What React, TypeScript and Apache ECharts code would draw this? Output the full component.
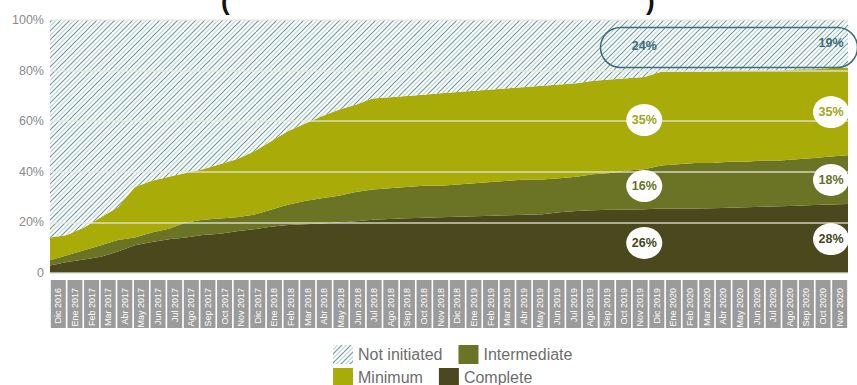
import React, { useEffect, useRef } from 'react';
import * as echarts from 'echarts';

const categories = [
  'Dic 2016',
  'Ene 2017', 'Feb 2017', 'Mar 2017', 'Abr 2017', 'May 2017', 'Jun 2017', 'Jul 2017', 'Ago 2017', 'Sep 2017', 'Oct 2017', 'Nov 2017', 'Dic 2017',
  'Ene 2018', 'Feb 2018', 'Mar 2018', 'Abr 2018', 'May 2018', 'Jun 2018', 'Jul 2018', 'Ago 2018', 'Sep 2018', 'Oct 2018', 'Nov 2018', 'Dic 2018',
  'Ene 2019', 'Feb 2019', 'Mar 2019', 'Abr 2019', 'May 2019', 'Jun 2019', 'Jul 2019', 'Ago 2019', 'Sep 2019', 'Oct 2019', 'Nov 2019', 'Dic 2019',
  'Ene 2020', 'Feb 2020', 'Mar 2020', 'Abr 2020', 'May 2020', 'Jun 2020', 'Jul 2020', 'Ago 2020', 'Sep 2020', 'Oct 2020', 'Nov 2020',
];

const complete = [3, 4.3, 5.3, 6.4, 8.5, 11, 12.3, 13.3, 14, 15, 15.5, 16.5, 17.3, 18.3, 19, 19.3, 19.6, 20, 20.5, 21, 21.3, 21.6, 21.8, 22, 22.2, 22.4, 22.6, 22.8, 23, 23.2, 24, 24.5, 24.8, 25, 25, 25.2, 25.5, 25.5, 25.5, 25.6, 25.8, 26, 26.2, 26.4, 26.6, 26.9, 27.1, 27.3];
const intermediate = [2, 2.7, 3.7, 4.6, 4.5, 3, 3.7, 4.2, 6, 6, 6, 5.5, 5.7, 6.7, 8, 9.2, 9.9, 10.5, 11.5, 12, 12.2, 12.4, 12.7, 12.5, 12.8, 13.1, 13.4, 13.7, 14, 13.8, 13.5, 13.5, 14.2, 14.5, 15.5, 15.8, 17, 17.5, 18, 17.9, 18.2, 18, 18.3, 18.1, 18.4, 18.6, 18.9, 19.2];
const minimum = [9, 8, 9, 11, 13, 20, 20.5, 20.5, 19.5, 20, 21.5, 23, 25, 27, 29, 30.5, 32.5, 34, 34.5, 36, 36, 36, 36, 36.5, 36.5, 36.5, 36.5, 36.5, 36.5, 37, 37, 37, 37, 37, 36.5, 36.5, 37, 36.5, 36, 36, 36, 36, 35.5, 35.5, 35.5, 35, 35, 34.5];
const notInitiated = [86, 85, 82, 78, 74, 66, 63.5, 62, 60.5, 59, 57, 55, 52, 48, 44, 41, 38, 35.5, 33.5, 31, 30.5, 30, 29.5, 29, 28.5, 28, 27.5, 27, 26.5, 26, 25.5, 25, 24, 23.5, 23, 22.5, 20.5, 20.5, 20.5, 20.5, 20, 20, 20, 20, 19.5, 19.5, 19, 19];

const yTicks = [0, 20, 40, 60, 80, 100];

// Annotation callouts (category, y-position in %, text)
const calloutCats = ['Nov 2019', 'Oct 2020'];
const calloutComplete = [[11.9, '26%'], [13.4, '28%']];
const calloutIntermediate = [[34.4, '16%'], [36.8, '18%']];
const calloutMinimum = [[60.5, '35%'], [63.6, '35%']];
const calloutNotInit = [[89.7, '24%'], [91, '19%']];

const FONT = '"Liberation Sans", Arial, Helvetica, sans-serif';
const C_COMPLETE = '#49491d';
const C_INTER = '#6b7425';
const C_MIN = '#a8ab08';
const C_TEAL = '#3d6c78';

function makeHatch() {
  const s = 9;
  const cv = document.createElement('canvas');
  cv.width = s;
  cv.height = s;
  const ctx = cv.getContext('2d')!;
  ctx.fillStyle = '#ffffff';
  ctx.fillRect(0, 0, s, s);
  ctx.lineCap = 'square';
  ctx.strokeStyle = '#6f9ca3';
  ctx.lineWidth = 1.2;
  ctx.beginPath();
  ctx.moveTo(-1, s + 1); ctx.lineTo(s + 1, -1);
  ctx.moveTo(-1, 1); ctx.lineTo(1, -1);
  ctx.moveTo(s - 1, s + 1); ctx.lineTo(s + 1, s - 1);
  ctx.stroke();
  ctx.strokeStyle = '#bcd3d7';
  ctx.lineWidth = 1.1;
  ctx.beginPath();
  ctx.moveTo(-1, s / 2 + 1); ctx.lineTo(s / 2 + 1, -1);
  ctx.moveTo(s / 2 - 1, s + 1); ctx.lineTo(s + 1, s / 2 - 1);
  ctx.stroke();
  return { image: cv.toDataURL(), repeat: 'repeat', imageWidth: s, imageHeight: s };
}

function calloutSeries(vals: any[], textColor: string, circle: boolean) {
  return {
    type: 'scatter',
    xAxisIndex: 0,
    yAxisIndex: 0,
    z: 10,
    symbol: 'circle',
    symbolSize: circle ? [36, 32] : 2,
    itemStyle: { color: circle ? '#ffffff' : 'rgba(0,0,0,0)', opacity: 1 },
    emphasis: { disabled: true },
    silent: true,
    label: {
      show: true,
      position: 'inside',
      formatter: (p: any) => p.value[2],
      color: textColor,
      fontFamily: FONT,
      fontWeight: 'bold',
      fontSize: 12.5,
    },
    data: vals.map((v, i) => [calloutCats[i], v[0], v[1]]),
  };
}

export default function App() {
  const ref = useRef<HTMLDivElement>(null);
  useEffect(() => {
    if (!ref.current) return;
    document.body.style.margin = '0';
    document.body.style.overflow = 'hidden';
    const chart = echarts.init(ref.current, undefined, { renderer: 'svg' });
    const hatch = makeHatch();
    const area = (name: string, data: number[], color: any) => ({
      name,
      type: 'line',
      stack: 'total',
      xAxisIndex: 0,
      yAxisIndex: 0,
      data,
      symbol: 'none',
      showSymbol: false,
      lineStyle: { width: 0 },
      itemStyle: { color },
      areaStyle: { color, opacity: 1 },
      z: 2,
    });
    const legendCommon = {
      orient: 'horizontal',
      left: 333,
      padding: 0,
      itemWidth: 20,
      itemHeight: 19,
      itemGap: 16,
      icon: 'rect',
      selectedMode: false,
      itemStyle: { borderWidth: 0 },
      textStyle: { fontSize: 16, color: '#6d6d6d', fontFamily: FONT, width: 121 },
    };
    chart.setOption({
      animation: false,
      backgroundColor: '#ffffff',
      grid: { left: 50, right: 9, top: 20, bottom: 112, containLabel: false },
      xAxis: [
        {
          type: 'category',
          data: categories,
          boundaryGap: false,
          axisLine: { show: true, lineStyle: { color: '#e4e4dc', width: 1 } },
          axisTick: { show: false },
          axisLabel: { show: false },
          splitLine: { show: false },
        },
        {
          type: 'category',
          data: categories,
          boundaryGap: true,
          position: 'bottom',
          axisLine: { show: false },
          axisTick: { show: false },
          splitLine: { show: false },
          axisLabel: {
            interval: 0,
            rotate: 90,
            margin: 7,
            color: '#ffffff',
            fontSize: 9,
            fontFamily: FONT,
            backgroundColor: '#9b9b9b',
            width: 40,
            lineHeight: 15,
            padding: [0, 8, 0, 0],
          },
        },
      ],
      yAxis: {
        type: 'value',
        min: 0,
        max: 100,
        interval: 20,
        z: 5,
        axisLine: { show: false },
        axisTick: { show: false },
        axisLabel: {
          color: '#8a8a8a',
          fontSize: 12.5,
          fontFamily: FONT,
          margin: 6,
          formatter: (v: number) => (yTicks.indexOf(v) >= 0 ? (v === 0 ? '0' : v + '%') : ''),
        },
        splitLine: { show: true, lineStyle: { color: 'rgba(232,232,222,0.85)', width: 1.5 } },
      },
      legend: [
        {
          ...legendCommon,
          top: 345,
          data: [
            { name: 'Not initiated', itemStyle: { color: hatch } },
            { name: 'Intermediate', itemStyle: { color: C_INTER } },
          ],
        },
        {
          ...legendCommon,
          top: 368,
          data: [
            { name: 'Minimum', itemStyle: { color: C_MIN } },
            { name: 'Complete', itemStyle: { color: C_COMPLETE } },
          ],
        },
      ],
      graphic: [
        {
          type: 'rect',
          left: 598,
          top: 25,
          z: 20,
          silent: true,
          shape: { width: 257, height: 40, r: 20 },
          style: { fill: 'none', stroke: C_TEAL, lineWidth: 1.5 },
        },
        {
          type: 'text',
          x: 221,
          y: -12,
          z: 20,
          style: { text: '(', font: 'bold 26px ' + FONT, fill: '#111' },
        },
        {
          type: 'text',
          x: 646,
          y: -12,
          z: 20,
          style: { text: ')', font: 'bold 26px ' + FONT, fill: '#111' },
        },
      ],
      series: [
        area('Complete', complete, C_COMPLETE),
        area('Intermediate', intermediate, C_INTER),
        area('Minimum', minimum, C_MIN),
        area('Not initiated', notInitiated, hatch),
        calloutSeries(calloutComplete, '#45481e', true),
        calloutSeries(calloutIntermediate, '#687226', true),
        calloutSeries(calloutMinimum, '#a2a516', true),
        calloutSeries(calloutNotInit, C_TEAL, false),
      ],
    });
    return () => chart.dispose();
  }, []);
  return <div ref={ref} style={{ width: 857, height: 385 }} />;
}
